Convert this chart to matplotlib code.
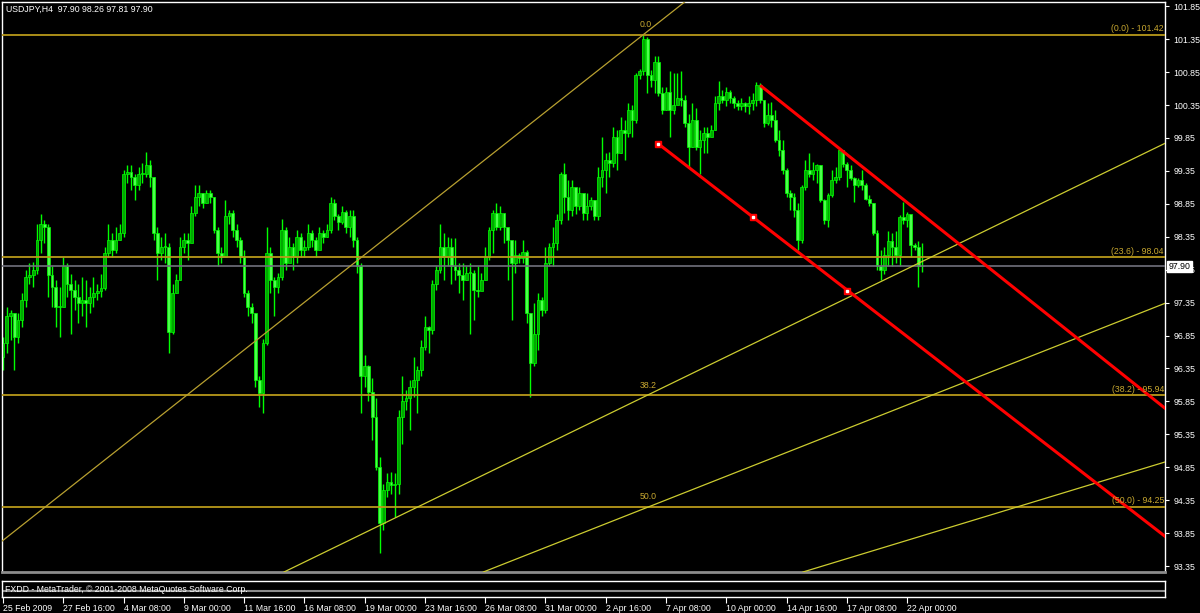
import numpy as np
import matplotlib
matplotlib.use("Agg")
import matplotlib.pyplot as plt
import matplotlib.transforms as mtransforms

plt.rcParams['font.family'] = ['Liberation Sans', 'DejaVu Sans']

# -----------------------------
# DATA - USDJPY H4, one value per bar (bar 0 = 25 Feb 2009 00:00)
# -----------------------------
first_open = 96.53

closes = [
    96.73, 97.14, 97.19, 96.83, 97.09, 97.39, 97.74, 97.77, 97.85, 98.30,
    98.55, 98.50, 97.77, 97.59, 97.29, 97.29, 97.90, 97.64, 97.54, 97.44,
    97.34, 97.39, 97.34, 97.44, 97.49, 97.52, 97.57, 98.10, 98.30, 98.15,
    98.30, 98.40, 99.31, 99.34, 99.26, 99.14, 99.31, 99.31, 99.44, 99.26,
    98.40, 98.10, 98.20, 98.20, 96.91, 97.49, 97.69, 98.20, 98.30, 98.25,
    98.71, 98.96, 99.01, 98.86, 99.01, 98.96, 98.45, 98.10, 98.05, 98.66,
    98.71, 98.45, 98.30, 98.05, 97.49, 97.29, 97.19, 96.18, 95.97, 96.73,
    98.10, 97.69, 97.59, 97.74, 98.45, 97.95, 98.20, 98.05, 98.35, 98.15,
    98.20, 98.40, 98.30, 98.15, 98.40, 98.35, 98.45, 98.86, 98.66, 98.58,
    98.73, 98.50, 98.66, 98.30, 97.90, 96.23, 96.38, 96.00, 95.62, 94.86,
    94.00, 94.50, 94.63, 94.58, 94.60, 95.62, 95.85, 95.90, 96.07, 96.18,
    96.33, 96.68, 96.98, 96.94, 97.64, 97.85, 98.20, 98.05, 98.20, 97.90,
    97.85, 97.77, 97.69, 97.80, 97.80, 97.54, 97.52, 97.69, 98.05, 98.45,
    98.71, 98.50, 98.71, 98.50, 98.30, 97.95, 98.07, 98.02, 98.12, 97.19,
    96.43, 96.88, 97.39, 97.24, 97.95, 98.20, 98.25, 98.60, 99.30, 98.96,
    98.76, 99.11, 98.81, 99.01, 98.71, 98.81, 98.91, 98.66, 99.26, 99.36,
    99.52, 99.47, 99.87, 99.62, 99.97, 99.92, 100.28, 100.12, 100.81, 100.86,
    101.35, 100.81, 100.73, 101.00, 100.53, 100.28, 100.55, 100.28, 100.35, 100.45,
    100.43, 100.07, 99.72, 100.12, 99.72, 99.82, 99.92, 99.87, 99.97, 100.38,
    100.48, 100.43, 100.55, 100.45, 100.38, 100.33, 100.38, 100.33, 100.38, 100.43,
    100.65, 100.43, 100.07, 100.20, 100.12, 99.82, 99.67, 99.36, 99.01, 98.96,
    98.76, 98.30, 99.11, 99.36, 99.31, 99.36, 99.44, 98.91, 98.60, 98.98,
    99.21, 99.26, 99.67, 99.46, 99.36, 99.24, 99.14, 99.21, 99.14, 98.93,
    98.86, 98.40, 97.90, 97.84, 98.07, 98.28, 98.20, 98.07, 98.65, 98.60,
    98.70, 98.22, 98.20, 97.90, 97.90,
]

highs = [
    96.83, 97.29, 97.24, 97.00, 97.19, 97.49, 97.85, 97.95, 97.97, 98.55,
    98.70, 98.60, 98.55, 97.90, 97.69, 97.59, 98.05, 97.95, 97.79, 97.69,
    97.64, 97.74, 97.69, 97.59, 97.74, 97.64, 97.79, 98.20, 98.55, 98.40,
    98.50, 98.55, 99.36, 99.44, 99.44, 99.31, 99.41, 99.47, 99.64, 99.52,
    99.26, 98.50, 98.35, 98.40, 98.25, 97.64, 97.79, 98.35, 98.40, 98.40,
    98.81, 99.14, 99.14, 99.01, 99.06, 99.06, 98.96, 98.50, 98.20, 98.91,
    98.76, 98.76, 98.55, 98.35, 98.15, 97.54, 97.35, 97.19, 96.23, 96.80,
    98.50, 98.20, 97.74, 97.80, 98.62, 98.50, 98.35, 98.25, 98.45, 98.40,
    98.30, 98.55, 98.45, 98.35, 98.50, 98.45, 98.55, 98.96, 98.93, 98.70,
    98.81, 98.76, 98.76, 98.76, 98.35, 97.95, 96.55, 96.40, 96.20, 95.90,
    95.01, 94.60, 94.76, 94.78, 94.76, 95.72, 96.23, 96.02, 96.18, 96.53,
    96.38, 96.78, 97.14, 97.00, 97.69, 97.90, 98.55, 98.40, 98.35, 98.33,
    98.33, 97.95, 97.95, 97.90, 97.95, 97.85, 97.90, 97.80, 98.20, 98.50,
    98.76, 98.86, 98.81, 98.62, 98.35, 98.20, 98.30, 98.10, 98.30, 98.15,
    97.19, 97.34, 97.49, 97.44, 98.20, 98.25, 98.50, 98.70, 99.34, 99.47,
    99.21, 99.21, 99.00, 99.11, 98.91, 99.01, 98.96, 98.91, 99.41, 99.87,
    99.62, 99.64, 100.02, 99.97, 100.17, 100.12, 100.38, 100.35, 100.83, 100.90,
    101.42, 101.39, 100.88, 101.09, 101.09, 100.63, 100.63, 100.86, 100.83, 100.83,
    100.86, 100.50, 100.22, 100.38, 100.30, 99.97, 100.02, 100.02, 100.05, 100.48,
    100.71, 100.58, 100.63, 100.58, 100.48, 100.43, 100.45, 100.40, 100.48, 100.53,
    100.70, 100.68, 100.43, 100.38, 100.40, 100.27, 99.97, 99.82, 99.39, 99.06,
    99.01, 98.86, 99.14, 99.52, 99.62, 99.49, 99.46, 99.44, 98.93, 99.01,
    99.36, 99.41, 99.69, 99.67, 99.49, 99.44, 99.26, 99.24, 99.36, 99.16,
    98.98, 98.86, 98.45, 98.15, 98.20, 98.43, 98.40, 98.43, 98.68, 98.88,
    98.73, 98.60, 98.25, 98.28, 98.26,
]

lows = [
    96.33, 96.58, 96.78, 96.33, 96.73, 96.98, 97.29, 97.64, 97.59, 97.79,
    98.10, 98.25, 97.44, 97.29, 96.98, 96.83, 97.44, 97.44, 96.88, 97.24,
    97.04, 97.14, 96.98, 97.19, 97.29, 97.39, 97.44, 97.54, 98.05, 98.05,
    98.10, 98.30, 98.35, 99.16, 99.06, 98.91, 99.06, 99.16, 99.26, 99.11,
    98.30, 97.69, 98.00, 97.95, 96.58, 96.88, 97.49, 97.69, 98.10, 98.00,
    98.40, 98.66, 98.81, 98.78, 98.86, 98.86, 98.40, 97.90, 97.95, 98.05,
    98.55, 98.35, 98.20, 97.95, 97.44, 97.14, 97.04, 96.07, 95.77, 95.67,
    96.70, 97.49, 97.14, 97.49, 97.69, 97.85, 97.99, 97.85, 97.95, 98.05,
    98.05, 98.15, 98.20, 98.05, 98.20, 98.25, 98.35, 98.40, 98.60, 98.45,
    98.55, 98.40, 98.35, 98.20, 97.80, 95.67, 96.07, 95.85, 95.26, 94.81,
    93.54, 93.90, 94.40, 94.45, 94.10, 94.45, 95.21, 95.72, 95.42, 95.92,
    95.67, 96.23, 96.63, 96.58, 96.88, 97.54, 97.80, 97.69, 97.90, 97.64,
    97.69, 97.49, 97.39, 97.69, 96.88, 97.09, 97.44, 97.60, 97.69, 97.99,
    98.10, 98.45, 98.45, 98.25, 97.69, 97.09, 97.80, 97.95, 97.95, 97.04,
    95.92, 96.38, 96.63, 97.15, 97.19, 97.90, 97.90, 98.15, 98.55, 98.71,
    98.61, 98.66, 98.70, 98.76, 98.61, 98.61, 98.75, 98.61, 98.61, 99.11,
    99.01, 99.26, 99.41, 99.36, 99.62, 99.52, 99.87, 99.87, 100.07, 100.75,
    100.80, 100.53, 100.63, 100.53, 100.48, 100.22, 100.28, 99.87, 100.22, 100.38,
    100.33, 100.02, 99.41, 99.72, 99.67, 99.31, 99.62, 99.62, 99.90, 99.97,
    100.28, 100.38, 100.33, 100.38, 100.30, 100.28, 100.28, 100.25, 100.22, 100.27,
    100.33, 100.38, 100.02, 100.05, 100.02, 99.79, 99.57, 99.31, 98.96, 98.76,
    98.65, 98.15, 98.25, 99.06, 99.26, 99.21, 99.16, 98.88, 98.55, 98.50,
    98.96, 99.16, 99.21, 99.41, 99.11, 99.21, 98.88, 99.10, 99.06, 98.91,
    98.81, 98.38, 97.84, 97.69, 97.79, 97.90, 97.90, 97.95, 97.90, 98.55,
    98.50, 98.05, 98.15, 97.59, 97.81,
]

# x axis labels (every 16 bars)
tick_bars = [0, 16, 32, 48, 64, 80, 96, 112, 128, 144, 160, 176, 192, 208, 224, 240]
tick_labels = ["25 Feb 2009", "27 Feb 16:00", "4 Mar 08:00", "9 Mar 00:00",
               "11 Mar 16:00", "16 Mar 08:00", "19 Mar 00:00", "23 Mar 16:00",
               "26 Mar 08:00", "31 Mar 00:00", "2 Apr 16:00", "7 Apr 08:00",
               "10 Apr 00:00", "14 Apr 16:00", "17 Apr 08:00", "22 Apr 00:00"]

price_ticks = [93.35, 93.85, 94.35, 94.85, 95.35, 95.85, 96.35, 96.85, 97.35,
               97.85, 98.35, 98.85, 99.35, 99.85, 100.35, 100.85, 101.35, 101.85]

# Fibonacci retracement levels
fib_names = ["0.0", "23.6", "38.2", "50.0"]
fib_prices = [101.42, 98.04, 95.94, 94.25]
fib_mid_labels = ["0.0", "", "38.2", "50.0"]

bid = 97.90
title = "USDJPY,H4  97.90 98.26 97.81 97.90"

# drawn objects: (bar, price) anchor pairs
trend_line = [(0, 93.74), (170, 101.42)]
fan_lines = [
    [(75, 93.27), (308.5, 99.77)],
    [(128, 93.27), (308.5, 97.34)],
    [(213, 93.27), (308.5, 94.93)],
]
red_upper = [(201, 100.65), (320, 95.22)]
red_lower = [(174, 99.76), (320, 93.29)]
red_marker_bars = [174, 199, 224]
red_marker_prices = [99.76, 98.65, 97.53]

# -----------------------------
# FIGURE
# -----------------------------
W, H = 1200, 613
fig = plt.figure(figsize=(12, 6.13), dpi=100, facecolor="black")
ax = fig.add_axes([2 / W, 41 / H, 1163 / W, 570 / H])
ax.set_facecolor("black")
ax.set_xlim(-0.265, 308.47)
ax.set_ylim(93.259, 101.915)

closes = np.array(closes)
highs = np.array(highs)
lows = np.array(lows)
opens = np.concatenate([[first_open], closes[:-1]])
idx = np.arange(len(closes))
up = closes >= opens

# candles
ax.vlines(idx, lows, highs, color="#00ff00", lw=1.0, zorder=2)
body_h = np.maximum(np.abs(closes - opens), 0.012)
ax.bar(idx, body_h, bottom=np.minimum(opens, closes), width=0.74,
       color=np.where(up, "#00a800", "#4cff4c"), edgecolor="#00ff00",
       linewidth=0.5, zorder=2)

# fib levels
fib_col = "#b8991a"
for name, p, mid in zip(fib_names, fib_prices, fib_mid_labels):
    ax.axhline(p, color=fib_col, lw=1.3, zorder=3)
    ax.annotate(f"({name}) - {p:.2f}", (308.2, p), xytext=(0, 1),
                textcoords="offset points", ha="right", va="bottom",
                color="#c8a830", fontsize=6.3, zorder=4)
    if mid:
        ax.annotate(mid, (169, p), xytext=(0, 4), textcoords="offset points",
                    ha="left", va="bottom", color="#c8a830", fontsize=6.3, zorder=4)

# bid line
ax.axhline(bid, color="#70707c", lw=1.2, zorder=3)
trans = mtransforms.blended_transform_factory(ax.transAxes, ax.transData)
ax.text(1.003, bid, f"{bid:.2f}", transform=trans, ha="left", va="center",
        fontsize=6.3, color="black", clip_on=False, zorder=5,
        bbox=dict(facecolor="white", edgecolor="white", pad=0.8))

# trend + fan lines
ax.axline(trend_line[0], trend_line[1], color="#b8a030", lw=0.9, zorder=3)
for (p1, p2) in fan_lines:
    ax.axline(p1, p2, color="#cccc30", lw=0.9, zorder=3)

# red channel
ax.plot([red_upper[0][0], red_upper[1][0]], [red_upper[0][1], red_upper[1][1]],
        color="#ff0000", lw=2.2, zorder=3, solid_capstyle="butt")
ax.plot([red_lower[0][0], red_lower[1][0]], [red_lower[0][1], red_lower[1][1]],
        color="#ff0000", lw=2.2, zorder=3, solid_capstyle="butt")
ax.plot(red_marker_bars, red_marker_prices, "s", ms=5, color="#ff0000", zorder=4)
ax.plot(red_marker_bars, red_marker_prices, "s", ms=1.8, color="white", zorder=5)

# axes look
ax.yaxis.tick_right()
ax.set_yticks(price_ticks)
ax.set_yticklabels([f"{p:.2f}" for p in price_ticks])
ax.tick_params(axis="y", colors="white", labelsize=6.3, length=3, width=0.8,
               direction="out", pad=3)
ax.set_xticks([])
for s in ["left", "top", "right"]:
    ax.spines[s].set_color("white")
    ax.spines[s].set_linewidth(1)
ax.spines["bottom"].set_color("#8c8c8c")
ax.spines["bottom"].set_linewidth(2)

ax.text(4 / 1163, 1 - 3 / 570, title, transform=ax.transAxes, ha="left",
        va="top", color="white", fontsize=6.3)

# -----------------------------
# SUB WINDOW + TIME AXIS
# -----------------------------
sub = fig.add_axes([2 / W, 16 / H, 1163 / W, 16 / H])
sub.set_facecolor("black")
sub.set_xlim(-0.265, 308.47)
sub.set_ylim(0, 1)
sub.axhline(0.37, color="#8c8c8c", lw=1.5)
sub.text(0.003, 0.5, "FXDD - MetaTrader, \u00a9 2001-2008 MetaQuotes Software Corp.",
         transform=sub.transAxes, ha="left", va="center", color="white", fontsize=6.3)
for s in sub.spines.values():
    s.set_color("white")
    s.set_linewidth(1)
sub.set_yticks([])
sub.set_xticks(tick_bars)
sub.set_xticklabels(tick_labels)
sub.tick_params(axis="x", colors="white", labelsize=6.3, length=4, width=0.8, pad=1)
plt.setp(sub.get_xticklabels(), ha="left")

fig.savefig("out.png", dpi=100, facecolor="black")
